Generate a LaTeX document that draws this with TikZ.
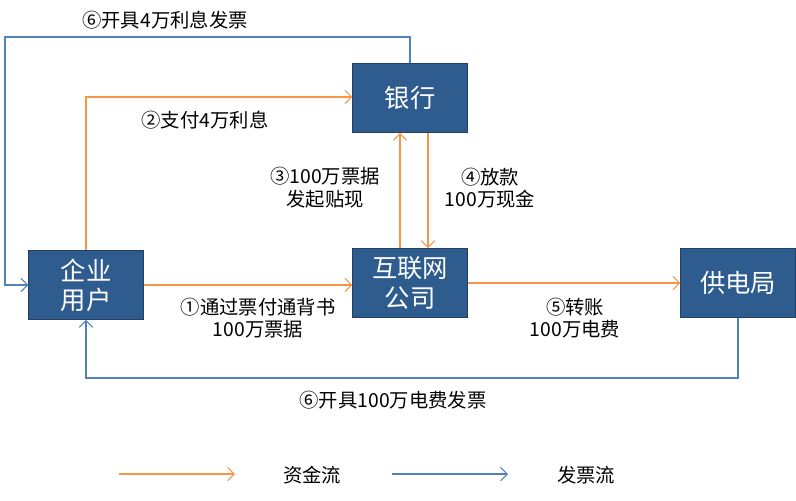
\documentclass[tikz,border=0pt]{standalone}
\usepackage{fontspec}
\setmainfont{Noto Sans CJK SC}
\usetikzlibrary{arrows.meta}
\definecolor{boxblue}{HTML}{2F5C8F}
\definecolor{money}{HTML}{F79646}
\definecolor{bill}{HTML}{4F81BD}
\tikzset{box/.style={fill=boxblue, draw=boxblue!70!black, text=white, minimum width=86pt, minimum height=52pt, align=center, font=\fontsize{19}{22}\selectfont},
  lbl/.style={align=center, font=\fontsize{14.5}{17}\selectfont},
  fund/.style={money, thick, -{Straight Barb[length=5pt,width=10pt]}},
  inv/.style={bill, thick, -{Straight Barb[length=5pt,width=10pt]}}}
\begin{document}
\begin{tikzpicture}[x=0.75pt, y=-0.75pt]
\useasboundingbox (0,0) rectangle (796,500);

\node[box] (bank) at (410,98) {银行};
\node[box] (user) at (86,285) {企业\\用户};
\node[box] (net) at (410,283) {互联网\\公司};
\node[box] (power) at (738,283) {供电局};

\draw[fund] (user.east |- 0,285) -- (net.west |- 0,285);
\draw[fund] (net.east) -- (power.west);
\draw[fund] (user.north) -- (86,97) -- (bank.west |- 0,97);
\draw[fund] (net.north -| 400,0) -- (bank.south -| 400,0);
\draw[fund] (bank.south -| 428,0) -- (net.north -| 428,0);
\draw[inv] (bank.north) -- (410,37) -- (5,37) -- (5,285) -- (user.west |- 0,285);
\draw[inv] (power.south) -- (738,378) -- (86,378) -- (user.south);

\node[lbl] (l1) at (258,318) {①通过票付通背书\\100万票据};
\node[lbl] (l5) at (575,318) {⑤转账\\100万电费};
\node[lbl] (l2) at (205,120) {②支付4万利息};
\node[lbl] (l3) at (325,188) {③100万票据\\发起贴现};
\node[lbl] (l4) at (490,188) {④放款\\100万现金};
\node[lbl] (l6a) at (165,20) {⑥开具4万利息发票};
\node[lbl] (l6b) at (393,400) {⑥开具100万电费发票};

\coordinate (fa) at (119,474);
\coordinate (fb) at (235,474);
\coordinate (ba) at (392,474);
\coordinate (bb) at (508,474);
\draw[fund] (fa) -- (fb);
\draw[inv] (ba) -- (bb);
\node[lbl] (lf) at (312,475) {资金流};
\node[lbl] (lb) at (586,475) {发票流};
\end{tikzpicture}
\end{document}
